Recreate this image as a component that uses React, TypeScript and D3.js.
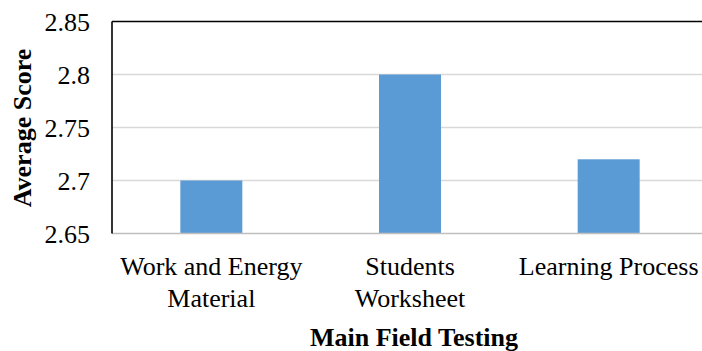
import React from "react";
import * as d3 from "d3";

const categories: string[][] = [
  ["Work and Energy", "Material"],
  ["Students", "Worksheet"],
  ["Learning Process"],
];
const scores: number[] = [2.7, 2.8, 2.72];
const yTicks: number[] = [2.65, 2.7, 2.75, 2.8, 2.85];
const yTitle = "Average Score";
const xTitle = "Main Field Testing";

const W = 702;
const H = 351;
const plot = { left: 112, right: 708, top: 21.5, bottom: 233.5 };
const font = "Liberation Serif";

export default function App() {
  const keys = categories.map((c) => c.join(" "));
  const x = d3
    .scaleBand<string>()
    .domain(keys)
    .range([plot.left, plot.right])
    .paddingInner(0)
    .paddingOuter(0);
  const y = d3.scaleLinear().domain([2.65, 2.85]).range([plot.bottom, plot.top]);
  const barW = x.bandwidth() * 0.312;
  const fmt = (v: number) => String(+v.toFixed(2));
  const txt = { fontFamily: font };

  return (
    <svg
      width={W}
      height={H}
      style={{ position: "absolute", left: 0, top: 0, background: "#fff" }}
    >
      {/* gridlines */}
      {yTicks.slice(1, -1).map((t) => (
        <line
          key={t}
          x1={plot.left}
          x2={plot.right}
          y1={y(t)}
          y2={y(t)}
          stroke="#D9D9D9"
          strokeWidth={1.3}
        />
      ))}
      {/* bars */}
      {keys.map((k, i) => {
        const cx = (x(k) as number) + x.bandwidth() / 2;
        return (
          <rect
            key={k}
            x={cx - barW / 2}
            y={y(scores[i])}
            width={barW}
            height={y(2.65) - y(scores[i])}
            fill="#5B9BD5"
          />
        );
      })}
      {/* baseline */}
      <line
        x1={plot.left}
        x2={plot.right}
        y1={plot.bottom}
        y2={plot.bottom}
        stroke="#BFBFBF"
        strokeWidth={1.3}
      />
      {/* frame: top and left */}
      <line
        x1={plot.left}
        x2={plot.right}
        y1={plot.top}
        y2={plot.top}
        stroke="#000"
        strokeWidth={1.6}
      />
      <line
        x1={plot.left}
        x2={plot.left}
        y1={plot.top}
        y2={plot.bottom}
        stroke="#000"
        strokeWidth={1.6}
      />
      {/* y tick labels */}
      {yTicks.map((t) => (
        <text
          key={t}
          x={90}
          y={y(t)}
          dy="0.35em"
          textAnchor="end"
          fontSize={26}
          style={txt}
          fill="#000"
        >
          {fmt(t)}
        </text>
      ))}
      {/* category labels */}
      {keys.map((k, i) => {
        const cx = (x(k) as number) + x.bandwidth() / 2;
        return (
          <text key={k} x={cx} y={275} textAnchor="middle" fontSize={26} style={txt} fill="#000">
            {categories[i].map((line, j) => (
              <tspan key={j} x={cx} dy={j === 0 ? 0 : 31.5}>
                {line}
              </tspan>
            ))}
          </text>
        );
      })}
      {/* axis titles */}
      <text
        x={(plot.left + plot.right) / 2 + 4}
        y={346}
        textAnchor="middle"
        fontSize={26}
        fontWeight="bold"
        style={txt}
        fill="#000"
      >
        {xTitle}
      </text>
      <text
        transform={`translate(31,${128}) rotate(-90)`}
        textAnchor="middle"
        fontSize={26}
        fontWeight="bold"
        style={txt}
        fill="#000"
      >
        {yTitle}
      </text>
    </svg>
  );
}
